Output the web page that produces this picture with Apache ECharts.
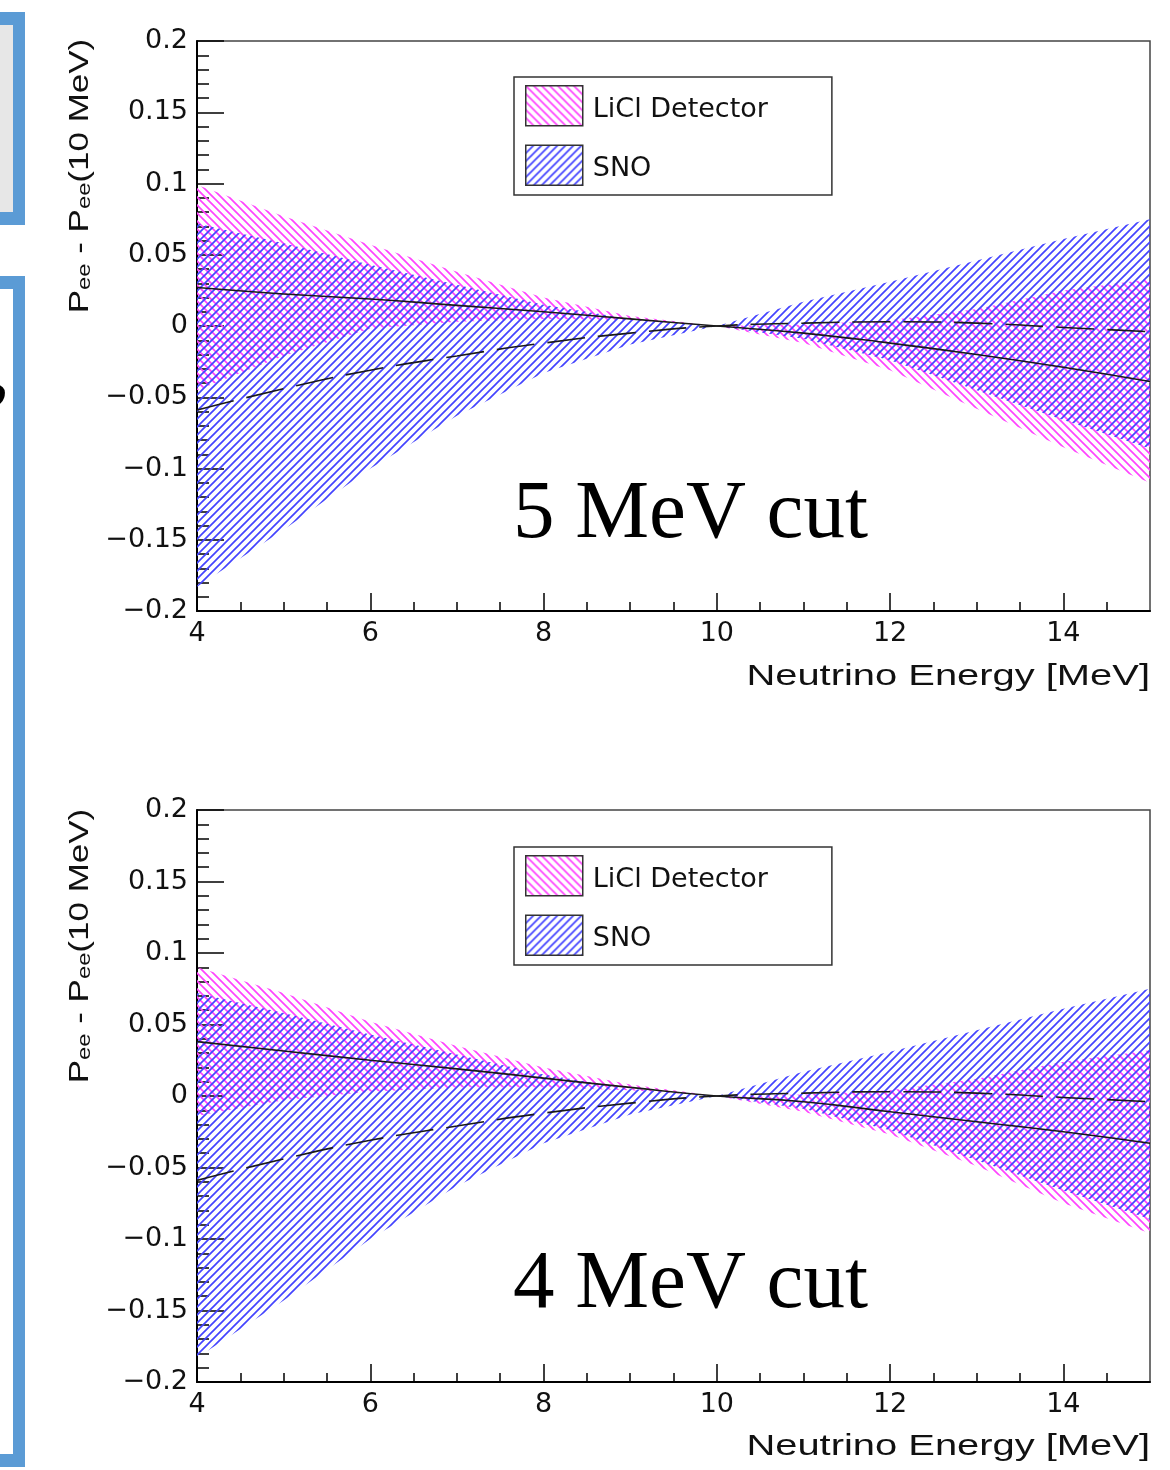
<!DOCTYPE html>
<html>
<head>
<meta charset="utf-8">
<script src="https://cdn.jsdelivr.net/npm/echarts@6/dist/echarts.min.js"></script>
<style>
html,body{margin:0;padding:0;background:#fff;}
#c{width:1170px;height:1470px;}
</style>
</head>
<body>
<div id="c"></div>
<script>
// ---------------- data ----------------
const energy = [4, 5, 6, 7, 8, 9, 10, 11, 12, 13, 14, 15];
const xTickLabels = [4, 6, 8, 10, 12, 14];

// 5 MeV cut panel
const liclHi5 = [0.099, 0.077, 0.057, 0.038, 0.020, 0.007, 0.000, 0.001, 0.004, 0.012, 0.025, 0.033];
const liclLo5 = [-0.045, -0.021, -0.002, 0.003, 0.005, 0.004, 0.000, -0.012, -0.031, -0.058, -0.085, -0.110];
const liclMid5 = [0.027, 0.0225, 0.019, 0.0145, 0.010, 0.005, 0.000, -0.005, -0.012, -0.020, -0.029, -0.039];

// 4 MeV cut panel
const liclHi4 = [0.090, 0.072, 0.052, 0.035, 0.020, 0.008, 0.000, 0.001, 0.004, 0.012, 0.024, 0.032];
const liclLo4 = [-0.014, -0.003, 0.003, 0.006, 0.006, 0.004, 0.000, -0.011, -0.027, -0.049, -0.075, -0.096];
const liclMid4 = [0.038, 0.0315, 0.025, 0.019, 0.0125, 0.006, 0.000, -0.004, -0.011, -0.018, -0.025, -0.033];

// SNO (same in both panels)
const snoHi = [0.072, 0.058, 0.043, 0.029, 0.015, 0.005, 0.000, 0.017, 0.031, 0.046, 0.061, 0.075];
const snoLo = [-0.183, -0.143, -0.100, -0.063, -0.033, -0.013, 0.000, -0.009, -0.024, -0.045, -0.066, -0.086];
const snoMid = [-0.059, -0.044, -0.031, -0.021, -0.012, -0.005, 0.000, 0.002, 0.003, 0.002, -0.001, -0.004];

const panelLabels = ['5 MeV cut', '4 MeV cut'];
const seriesNames = ['LiCl Detector', 'SNO'];

// ---------------- helpers ----------------
function hatch(color, dir) {
  const d = 8;
  const c = document.createElement('canvas');
  c.width = d; c.height = d;
  const g = c.getContext('2d');
  g.strokeStyle = color;
  g.lineWidth = 1.7;
  g.beginPath();
  if (dir === '/') {
    g.moveTo(-1, d + 1); g.lineTo(d + 1, -1);
    g.moveTo(-1, 1); g.lineTo(1, -1);
    g.moveTo(d - 1, d + 1); g.lineTo(d + 1, d - 1);
  } else {
    g.moveTo(-1, -1); g.lineTo(d + 1, d + 1);
    g.moveTo(d - 1, -1); g.lineTo(d + 1, 1);
    g.moveTo(-1, d - 1); g.lineTo(1, d + 1);
  }
  g.stroke();
  return { image: c, repeat: 'repeat' };
}
const pinkHatch = hatch('#ff44ff', '\\');
const blueHatch = hatch('#4444ff', '/');

const xy = arr => energy.map((e, i) => [e, arr[i]]);

function band(name, lo, hi, pattern, p) {
  return {
    name: name, type: 'custom', xAxisIndex: 2 * p, yAxisIndex: p, silent: true, z: 2,
    data: energy.map((e, i) => [e, lo[i], hi[i]]),
    encode: { x: 0, y: [1, 2] },
    itemStyle: { color: pattern },
    renderItem: function (params, api) {
      if (params.dataIndexInside !== 0) return null;
      const n = params.dataInsideLength;
      const upper = [], lower = [];
      for (let i = 0; i < n; i++) {
        const x = api.value(0, i);
        upper.push(api.coord([x, api.value(2, i)]));
        lower.push(api.coord([x, api.value(1, i)]));
      }
      return {
        type: 'polygon',
        shape: { points: upper.concat(lower.reverse()) },
        style: { fill: pattern, stroke: null }
      };
    }
  };
}

function centralLine(arr, p, dashed) {
  return {
    type: 'line', xAxisIndex: 2 * p, yAxisIndex: p, data: xy(arr), smooth: true,
    symbol: 'none', silent: true, z: 5,
    lineStyle: { color: '#1a1a1a', width: 1.6, type: dashed ? [38, 13] : 'solid' }
  };
}

const fmtY = v => {
  const r = Math.round(v * 100) / 100;
  return (r === 0 ? '0' : String(r)).replace('-', '\u2212');
};

const tickFont = { fontFamily: 'DejaVu Sans', fontSize: 27, color: '#111' };

function xAxesFor(g) {
  return [
    {
      gridIndex: g, type: 'value', min: 4, max: 15, interval: 0.5, position: 'bottom',
      axisLine: { show: true, onZero: false, lineStyle: { color: '#000', width: 2 } },
      axisTick: { show: true, inside: true, length: 9, lineStyle: { color: '#000', width: 1.5 } },
      axisLabel: Object.assign({
        margin: 9, showMaxLabel: false,
        formatter: v => (xTickLabels.indexOf(v) >= 0 ? String(v) : '')
      }, tickFont),
      splitLine: { show: false }
    },
    {
      gridIndex: g, type: 'value', min: 4, max: 15, interval: 2, position: 'bottom',
      axisLine: { show: false, onZero: false },
      axisTick: { show: true, inside: true, length: 18, customValues: xTickLabels,
                  lineStyle: { color: '#000', width: 1.5 } },
      axisLabel: { show: false },
      splitLine: { show: false }
    }
  ];
}

function yAxisFor(g) {
  return {
    gridIndex: g, type: 'value', min: -0.2, max: 0.2, interval: 0.05, position: 'left',
    axisLine: { show: true, onZero: false, lineStyle: { color: '#000', width: 2 } },
    axisTick: { show: true, inside: true, length: 27, lineStyle: { color: '#000', width: 1.5 } },
    minorTick: { show: true, splitNumber: 5, length: 12, lineStyle: { color: '#000', width: 1.5 } },
    axisLabel: Object.assign({ margin: 9, showMinLabel: true, showMaxLabel: true, formatter: fmtY }, tickFont),
    splitLine: { show: false }, minorSplitLine: { show: false }
  };
}

function legendFor(top) {
  return {
    left: 514, top: top, orient: 'vertical', selectedMode: false,
    itemWidth: 57, itemHeight: 40, itemGap: 18,
    padding: [8, 64, 9, 11],
    backgroundColor: '#fff', borderColor: '#333', borderWidth: 1.5,
    formatter: '{a|{name}}',
    textStyle: {
      fontFamily: 'DejaVu Sans', fontSize: 27, color: '#111',
      rich: { a: { fontFamily: 'DejaVu Sans', fontSize: 27, color: '#111', padding: [8, 0, 0, 5] } }
    },
    data: [
      { name: seriesNames[0], icon: 'rect', itemStyle: { color: pinkHatch, borderColor: '#333', borderWidth: 1.5 } },
      { name: seriesNames[1], icon: 'rect', itemStyle: { color: blueHatch, borderColor: '#333', borderWidth: 1.5 } }
    ],
    z: 10
  };
}

function panelTexts(dy, label) {
  return [
    {
      type: 'text', x: 80, y: 176 + dy, rotation: Math.PI / 2, scaleX: 1.25, z: 10,
      style: {
        text: '{n|P}{s|ee}{n| - P}{s|ee}{n|(10 MeV)}',
        align: 'center', verticalAlign: 'middle', fill: '#111',
        rich: {
          n: { fontFamily: 'Liberation Sans', fontSize: 28, lineHeight: 28, verticalAlign: 'bottom', fill: '#111' },
          s: { fontFamily: 'Liberation Sans', fontSize: 19, lineHeight: 10, verticalAlign: 'bottom', fill: '#111' }
        }
      }
    },
    {
      type: 'text', x: 1150, y: 677 + dy, scaleX: 1.33, z: 10,
      style: { text: 'Neutrino Energy [MeV]', fontFamily: 'Liberation Sans', fontSize: 30,
               fill: '#111', align: 'right', verticalAlign: 'middle' }
    },
    {
      type: 'text', x: 513, y: 515 + dy, z: 10,
      style: { text: label, fontFamily: 'Liberation Serif', fontSize: 83,
               fill: '#000', align: 'left', verticalAlign: 'middle' }
    }
  ];
}

const decorations = [
  { type: 'rect', shape: { x: -10, y: 12, width: 35, height: 213 }, style: { fill: '#5b9bd5' }, z: 1 },
  { type: 'rect', shape: { x: -10, y: 25, width: 23, height: 187 }, style: { fill: '#e7e7e7' }, z: 2 },
  { type: 'rect', shape: { x: -10, y: 276, width: 35, height: 1191 }, style: { fill: '#5b9bd5' }, z: 1 },
  { type: 'rect', shape: { x: -10, y: 289, width: 23, height: 1165 }, style: { fill: '#ffffff' }, z: 2 },
  { type: 'text', x: -12, y: 336, z: 3,
    style: { text: ',', fontFamily: 'Liberation Serif', fontWeight: 'bold', fontSize: 80, fill: '#000',
             align: 'left', verticalAlign: 'top' } }
];

const option = {
  backgroundColor: '#fff',
  animation: false,
  grid: [
    { left: 197, top: 41, width: 953, height: 570, show: true, borderColor: '#444', borderWidth: 1.5,
      backgroundColor: 'rgba(0,0,0,0)', containLabel: false, outerBoundsMode: 'none' },
    { left: 197, top: 810, width: 953, height: 572, show: true, borderColor: '#444', borderWidth: 1.5,
      backgroundColor: 'rgba(0,0,0,0)', containLabel: false, outerBoundsMode: 'none' }
  ],
  xAxis: xAxesFor(0).concat(xAxesFor(1)),
  yAxis: [yAxisFor(0), yAxisFor(1)],
  legend: [legendFor(77), legendFor(847)],
  series: [
    band(seriesNames[0], liclLo5, liclHi5, pinkHatch, 0),
    band(seriesNames[1], snoLo, snoHi, blueHatch, 0),
    centralLine(liclMid5, 0, false),
    centralLine(snoMid, 0, true),
    band(seriesNames[0], liclLo4, liclHi4, pinkHatch, 1),
    band(seriesNames[1], snoLo, snoHi, blueHatch, 1),
    centralLine(liclMid4, 1, false),
    centralLine(snoMid, 1, true)
  ],
  graphic: { elements: decorations.concat(panelTexts(0, panelLabels[0])).concat(panelTexts(770, panelLabels[1])) }
};

const chart = echarts.init(document.getElementById('c'), null, { renderer: 'canvas' });
chart.setOption(option);
</script>
</body>
</html>
